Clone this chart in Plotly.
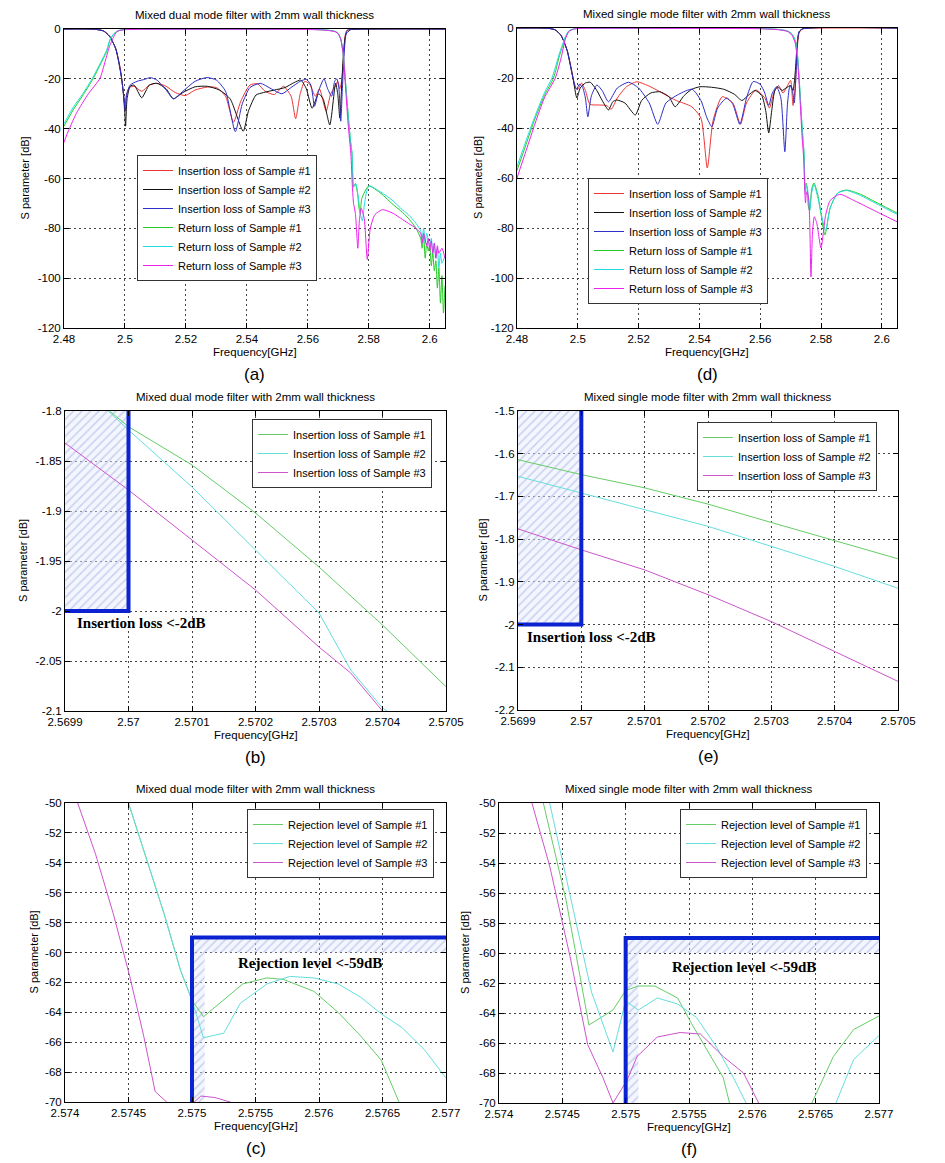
import plotly.graph_objects as go

W, H = 945, 1163
FONT = "Liberation Sans, Arial, sans-serif"
SERIF = "Liberation Serif, Times New Roman, serif"

# ---------------- tick labels / ranges ----------------
WIDE_XRANGE = [2.48, 2.605]
WIDE_YRANGE = [-120, 0]
WIDE_XTICKS = [2.48, 2.50, 2.52, 2.54, 2.56, 2.58, 2.60]
WIDE_XLABELS = ["2.48", "2.5", "2.52", "2.54", "2.56", "2.58", "2.6"]
WIDE_YTICKS = [0, -20, -40, -60, -80, -100, -120]
WIDE_YLABELS = ["0", "-20", "-40", "-60", "-80", "-100", "-120"]

IL_XRANGE = [2.5699, 2.5705]
IL_XTICKS = [2.5699, 2.5700, 2.5701, 2.5702, 2.5703, 2.5704, 2.5705]
IL_XLABELS = ["2.5699", "2.57", "2.5701", "2.5702", "2.5703", "2.5704", "2.5705"]
IL_DUAL_YRANGE = [-2.1, -1.8]
IL_DUAL_YTICKS = [-1.8, -1.85, -1.9, -1.95, -2.0, -2.05, -2.1]
IL_DUAL_YLABELS = ["-1.8", "-1.85", "-1.9", "-1.95", "-2", "-2.05", "-2.1"]
IL_SINGLE_YRANGE = [-2.2, -1.5]
IL_SINGLE_YTICKS = [-1.5, -1.6, -1.7, -1.8, -1.9, -2.0, -2.1, -2.2]
IL_SINGLE_YLABELS = ["-1.5", "-1.6", "-1.7", "-1.8", "-1.9", "-2", "-2.1", "-2.2"]

RJ_XRANGE = [2.574, 2.577]
RJ_XTICKS = [2.574, 2.5745, 2.575, 2.5755, 2.576, 2.5765, 2.577]
RJ_XLABELS = ["2.574", "2.5745", "2.575", "2.5755", "2.576", "2.5765", "2.577"]
RJ_YRANGE = [-70, -50]
RJ_YTICKS = [-50, -52, -54, -56, -58, -60, -62, -64, -66, -68, -70]
RJ_YLABELS = ["-50", "-52", "-54", "-56", "-58", "-60", "-62", "-64", "-66", "-68", "-70"]

# specification limits
IL_SPEC_FREQ = 2.57
IL_SPEC_DB = -2.0
RJ_SPEC_FREQ = 2.575
RJ_SPEC_DB = -59.0
RJ_HATCH_DB = 1.0
RJ_HATCH_FREQ = 0.0001

# ---------------- (a) dual mode, wide span ----------------
A_IL1 = [(2.480, 0), (2.490, -0.1), (2.493, -0.8), (2.495, -3), (2.497, -8), (2.4985, -16), (2.4995, -26),
         (2.4999, -33), (2.5004, -27), (2.5015, -23.5), (2.503, -23), (2.5055, -25), (2.508, -22.5),
         (2.5105, -21.8), (2.5135, -23), (2.5165, -25.5), (2.5198, -26.7), (2.523, -24.5), (2.527, -23.3),
         (2.530, -23.5), (2.533, -27), (2.5356, -37.4), (2.538, -29), (2.541, -22.5), (2.5435, -22),
         (2.546, -25), (2.549, -26.3), (2.552, -23), (2.5545, -27), (2.556, -36), (2.5575, -26), (2.559, -21),
         (2.5605, -22), (2.5625, -27), (2.5638, -24), (2.566, -33), (2.5675, -26), (2.569, -23), (2.5698, -21),
         (2.5705, -24), (2.5712, -20), (2.5718, -10), (2.5722, -3), (2.5728, -0.5), (2.575, -0.1), (2.605, 0)]
A_IL2 = [(2.480, 0), (2.490, -0.1), (2.493, -0.8), (2.495, -3), (2.497, -8), (2.4988, -19), (2.4998, -30),
         (2.5002, -39), (2.5007, -28), (2.5017, -23), (2.503, -22.5), (2.5055, -27.6), (2.508, -22.5),
         (2.5105, -21.8), (2.5135, -24), (2.5159, -28), (2.519, -25.5), (2.523, -23.2), (2.527, -23),
         (2.531, -24.5), (2.5345, -28), (2.5388, -41), (2.5405, -33), (2.543, -26.5), (2.5455, -25.5),
         (2.549, -24.5), (2.5525, -23.5), (2.5555, -21.5), (2.5577, -20.5), (2.5595, -24), (2.5614, -31.8),
         (2.5635, -26), (2.565, -28), (2.5672, -38.5), (2.5691, -21.8), (2.5698, -26), (2.5705, -35.8),
         (2.5712, -20), (2.5718, -8), (2.5725, -2), (2.574, -0.3), (2.578, -0.05), (2.605, 0)]
A_IL3 = [(2.480, 0), (2.490, -0.1), (2.493, -0.8), (2.495, -3), (2.497, -8), (2.4988, -19), (2.4997, -28),
         (2.5001, -33), (2.5006, -26), (2.5017, -22.5), (2.504, -21), (2.5065, -20.2), (2.5083, -19.5),
         (2.5105, -20.5), (2.5135, -24.5), (2.5159, -28), (2.519, -25), (2.523, -21), (2.5269, -19.5),
         (2.530, -20.5), (2.533, -25), (2.5362, -41.2), (2.5385, -30), (2.541, -23.5), (2.5444, -21.8),
         (2.548, -24), (2.5515, -26), (2.5545, -23.5), (2.5575, -21), (2.5595, -20.2), (2.561, -22.5),
         (2.5622, -31), (2.5635, -25), (2.5653, -20), (2.5665, -24), (2.5678, -27), (2.5688, -21),
         (2.5695, -20), (2.5702, -24), (2.5708, -37), (2.5713, -25), (2.5718, -12), (2.5724, -3),
         (2.573, -0.5), (2.575, -0.1), (2.605, 0)]
A_RL1 = [(2.480, -39), (2.483, -32.5), (2.486, -27), (2.4896, -19.8), (2.492, -14), (2.494, -9), (2.4951, -4.4),
         (2.4965, -1.8), (2.498, -0.6), (2.500, -0.2), (2.530, -0.1), (2.560, -0.15), (2.566, -0.4),
         (2.569, -1), (2.570, -1.9), (2.5708, -4), (2.5716, -10), (2.5724, -22), (2.5732, -34), (2.574, -45),
         (2.5745, -50), (2.575, -63.5), (2.5756, -62), (2.5763, -66), (2.5768, -72), (2.5772, -74),
         (2.5777, -68), (2.580, -63), (2.584, -66), (2.588, -70.5), (2.5905, -73), (2.593, -76), (2.5955, -80),
         (2.597, -84), (2.5975, -88), (2.598, -83), (2.5985, -92), (2.599, -86), (2.5995, -89), (2.600, -87),
         (2.6005, -95), (2.601, -90), (2.6015, -97), (2.602, -93), (2.6025, -104), (2.603, -96),
         (2.6035, -110), (2.604, -99), (2.6045, -114), (2.605, -103)]
A_RL2 = [(2.480, -38), (2.483, -31.5), (2.486, -26.3), (2.4893, -19.8), (2.492, -13.5), (2.494, -8.5),
         (2.4951, -4.2), (2.4965, -1.7), (2.498, -0.6), (2.500, -0.2), (2.530, -0.1), (2.560, -0.15),
         (2.566, -0.4), (2.569, -1), (2.570, -1.9), (2.5708, -4), (2.5716, -10), (2.5724, -22), (2.5732, -34),
         (2.574, -45), (2.5745, -50), (2.575, -63), (2.5757, -62), (2.5765, -67), (2.5772, -74), (2.5779, -77),
         (2.5786, -70), (2.580, -63), (2.584, -65.5), (2.588, -69), (2.5905, -72), (2.593, -74.5),
         (2.5955, -78), (2.597, -81), (2.5975, -84), (2.598, -80), (2.5985, -86), (2.599, -82), (2.600, -87),
         (2.6005, -84), (2.601, -90), (2.6015, -86), (2.602, -92), (2.6025, -88), (2.603, -96), (2.6035, -90),
         (2.604, -94), (2.605, -91)]
A_RL3 = [(2.480, -45.5), (2.4809, -42.5), (2.484, -34), (2.488, -26), (2.4918, -19.8), (2.4935, -13),
         (2.4951, -6.4), (2.4973, -1.1), (2.499, -0.4), (2.501, -0.2), (2.530, -0.1), (2.560, -0.2),
         (2.566, -0.5), (2.569, -1.1), (2.570, -2), (2.5708, -4.2), (2.5716, -10), (2.5724, -24), (2.5732, -38),
         (2.5741, -50), (2.5746, -63), (2.575, -70), (2.5756, -74), (2.5764, -88), (2.5769, -77), (2.5775, -72),
         (2.5785, -76), (2.5795, -92.5), (2.5805, -80), (2.582, -74.5), (2.5845, -72.5), (2.588, -74),
         (2.5905, -76), (2.593, -78), (2.5955, -80), (2.597, -82), (2.5975, -86), (2.598, -82), (2.599, -87),
         (2.5995, -84), (2.600, -89), (2.6005, -85), (2.601, -90), (2.6015, -86), (2.602, -92), (2.6025, -87),
         (2.603, -90), (2.604, -88), (2.605, -92)]

# ---------------- (d) single mode, wide span ----------------
D_IL1 = [(2.480, 0), (2.490, -0.1), (2.4925, -0.7), (2.4945, -3), (2.4965, -9), (2.498, -17), (2.4992, -24),
         (2.500, -24.5), (2.5012, -22), (2.5025, -25), (2.504, -30.5), (2.507, -30.8), (2.5095, -31),
         (2.511, -32.5), (2.513, -28), (2.516, -23.5), (2.5194, -21.5), (2.523, -23), (2.526, -24.8),
         (2.532, -28.8), (2.5375, -31.5), (2.5405, -36), (2.5426, -56), (2.5445, -37), (2.5475, -27.5),
         (2.551, -30), (2.5535, -38.5), (2.5555, -30), (2.5586, -24.8), (2.5615, -28), (2.563, -32),
         (2.5645, -26), (2.566, -23), (2.5675, -26), (2.569, -23), (2.570, -21), (2.5708, -31), (2.5716, -22),
         (2.5722, -8), (2.5728, -2), (2.574, -0.3), (2.578, -0.05), (2.605, 0)]
D_IL2 = [(2.480, 0), (2.490, -0.1), (2.4925, -0.7), (2.4945, -3), (2.4965, -9), (2.4984, -20), (2.4997, -28),
         (2.5008, -24), (2.5025, -22), (2.5041, -21.7), (2.506, -24.5), (2.5085, -30), (2.5101, -32.8),
         (2.5115, -29.5), (2.5128, -28.8), (2.5155, -30), (2.5189, -34.8), (2.521, -29), (2.524, -26),
         (2.527, -25.5), (2.530, -27.5), (2.532, -31.5), (2.535, -27), (2.5375, -24.5), (2.5402, -23.5),
         (2.544, -23.7), (2.548, -24.5), (2.5515, -26.5), (2.554, -29), (2.556, -27), (2.5583, -25),
         (2.5605, -27), (2.5618, -33), (2.5628, -42), (2.5638, -33), (2.5648, -25), (2.5658, -23.5),
         (2.5672, -25), (2.5685, -24), (2.570, -23), (2.5708, -25), (2.5715, -18), (2.5722, -6),
         (2.5728, -1.5), (2.574, -0.3), (2.605, 0)]
D_IL3 = [(2.480, 0), (2.490, -0.1), (2.4925, -0.7), (2.4945, -3), (2.4965, -9), (2.4984, -20), (2.4996, -24.5),
         (2.5005, -22.5), (2.5015, -23.5), (2.5025, -28), (2.5033, -35.5), (2.5045, -27), (2.5063, -22.8),
         (2.508, -25), (2.5101, -29.5), (2.513, -24), (2.5167, -21.7), (2.520, -24), (2.5235, -30),
         (2.5263, -38.5), (2.529, -30), (2.5332, -26.5), (2.5376, -24.5), (2.5405, -29), (2.5425, -36),
         (2.5441, -39.5), (2.546, -32), (2.549, -28), (2.551, -30.5), (2.5533, -38.5), (2.5555, -28),
         (2.5577, -21.4), (2.560, -22.5), (2.5615, -26), (2.5628, -31), (2.564, -26), (2.5654, -23.5),
         (2.5668, -28), (2.5681, -49.5), (2.569, -30), (2.5698, -23), (2.5706, -25), (2.5712, -30),
         (2.5718, -18), (2.5722, -6), (2.5728, -1.5), (2.574, -0.3), (2.605, 0)]
D_RL1 = [(2.480, -57), (2.483, -46.5), (2.486, -36), (2.489, -27), (2.492, -20), (2.494, -11), (2.4959, -4),
         (2.497, -1.3), (2.4985, -0.4), (2.500, -0.2), (2.530, -0.1), (2.560, -0.2), (2.566, -0.6),
         (2.569, -1.2), (2.5705, -2.5), (2.5715, -5), (2.5722, -10), (2.5728, -20), (2.5733, -30),
         (2.5738, -40), (2.5744, -50), (2.5747, -65), (2.5751, -62), (2.5755, -64.5), (2.5758, -71),
         (2.5762, -73), (2.5765, -70), (2.577, -64), (2.5777, -62), (2.579, -67), (2.5813, -82.8), (2.583, -72),
         (2.5855, -66), (2.5884, -64.8), (2.593, -66.5), (2.597, -69), (2.601, -71.5), (2.605, -74)]
D_RL2 = [(2.480, -55.5), (2.483, -45), (2.486, -35), (2.489, -26), (2.4915, -20), (2.494, -10), (2.4959, -3.5),
         (2.497, -1.2), (2.4985, -0.4), (2.500, -0.2), (2.530, -0.1), (2.560, -0.2), (2.566, -0.6),
         (2.569, -1.2), (2.5705, -2.5), (2.5715, -5), (2.5722, -10), (2.5728, -20), (2.5733, -30),
         (2.5738, -40), (2.5744, -50), (2.5747, -62.5), (2.5749, -66.6), (2.5752, -63), (2.5755, -63.5),
         (2.5757, -66), (2.576, -70.5), (2.5763, -73), (2.5766, -70), (2.5768, -67), (2.577, -65.5),
         (2.5777, -62.5), (2.579, -68), (2.5815, -81), (2.583, -72), (2.5855, -66), (2.5884, -65), (2.593, -67),
         (2.597, -69.5), (2.601, -72), (2.605, -74.5)]
D_RL3 = [(2.480, -60), (2.483, -49), (2.486, -38), (2.489, -28), (2.4926, -20), (2.4945, -12), (2.4959, -4.5),
         (2.497, -1.5), (2.4985, -0.5), (2.500, -0.2), (2.530, -0.15), (2.560, -0.3), (2.566, -0.7),
         (2.569, -1.4), (2.5705, -3), (2.5715, -6), (2.5722, -12), (2.5728, -22), (2.5733, -33), (2.5738, -44),
         (2.5743, -52), (2.5747, -66), (2.5749, -70), (2.5751, -67), (2.5753, -65.8), (2.5755, -65.4),
         (2.5757, -66.5), (2.576, -69), (2.5763, -78), (2.5767, -99.5), (2.5772, -82), (2.5778, -75.5),
         (2.5786, -78), (2.580, -88), (2.5815, -75), (2.583, -69), (2.5862, -66.5), (2.590, -68.5),
         (2.595, -71.5), (2.600, -74.5), (2.605, -77.5)]

# ---------------- (b) / (e) insertion loss zoom ----------------
B_IL1 = [(2.56997, -1.80), (2.5700, -1.8157), (2.5701, -1.854), (2.5702, -1.902), (2.5703, -1.956),
         (2.5704, -2.014), (2.5705, -2.0757)]
B_IL2 = [(2.569968, -1.80), (2.5700, -1.819), (2.5701, -1.876), (2.5702, -1.939), (2.5703, -2.002),
         (2.57035, -2.059), (2.5704, -2.097), (2.570407, -2.10)]
B_IL3 = [(2.5699, -1.832), (2.5700, -1.879), (2.5701, -1.929), (2.5702, -1.979), (2.5703, -2.036),
         (2.57035, -2.062), (2.5704, -2.10)]
E_IL1 = [(2.5699, -1.614), (2.5700, -1.649), (2.5701, -1.680), (2.5702, -1.718), (2.5703, -1.761),
         (2.5704, -1.804), (2.5705, -1.846)]
E_IL2 = [(2.5699, -1.653), (2.5700, -1.692), (2.5701, -1.731), (2.5702, -1.770), (2.5703, -1.817),
         (2.5704, -1.864), (2.5705, -1.915)]
E_IL3 = [(2.5699, -1.776), (2.5700, -1.825), (2.5701, -1.872), (2.5702, -1.930), (2.5703, -1.993),
         (2.5704, -2.063), (2.5705, -2.133)]

# ---------------- (c) / (f) rejection zoom ----------------
C_RJ1 = [(2.5745, -50), (2.57478, -57.4), (2.57491, -61.2), (2.575, -63.2), (2.57509, -64.3), (2.57522, -63.4),
         (2.5754, -62.1), (2.57559, -61.7), (2.57572, -61.8), (2.57596, -62.6), (2.57615, -64.0),
         (2.57633, -65.6), (2.57649, -67.2), (2.57663, -70), (2.5768, -72)]
C_RJ2 = [(2.5745, -50), (2.57478, -57.4), (2.57491, -61.2), (2.575, -63.2), (2.57509, -65.7), (2.57525, -65.4),
         (2.57538, -63.4), (2.57559, -62.1), (2.57577, -61.6), (2.57596, -61.7), (2.57615, -62.1),
         (2.57633, -63.0), (2.57649, -64.1), (2.57665, -65.0), (2.57683, -66.5), (2.577, -68.4)]
C_RJ3 = [(2.5741, -50), (2.57424, -53.4), (2.57438, -57.4), (2.57451, -61.6), (2.57462, -65.6),
         (2.57471, -69.3), (2.5748, -70), (2.57494, -70.6), (2.57507, -69.6), (2.57518, -69.7), (2.5753, -70),
         (2.5754, -70.3)]
F_RJ1 = [(2.57435, -50), (2.57453, -56.5), (2.57471, -64.8), (2.5749, -63.8), (2.575, -62.5), (2.5751, -62.2),
         (2.57523, -62.2), (2.57541, -63.0), (2.57552, -64.7), (2.57566, -66.7), (2.57577, -68.3),
         (2.57582, -70), (2.5760, -72), (2.5763, -72.5), (2.57647, -70), (2.57664, -66.9), (2.5768, -65.1),
         (2.577, -64.2)]
F_RJ2 = [(2.5744, -50), (2.57456, -56.2), (2.57473, -62.6), (2.5749, -66.6), (2.575, -63.2), (2.5751, -63.8),
         (2.57525, -63.0), (2.57541, -63.4), (2.57556, -64.3), (2.57572, -66.3), (2.57585, -68.3),
         (2.57595, -70), (2.5762, -72.5), (2.57666, -70), (2.5768, -67.1), (2.577, -65.5)]
F_RJ3 = [(2.57426, -50), (2.5744, -54.2), (2.57456, -60.2), (2.5747, -66.1), (2.57482, -68.3), (2.5749, -70),
         (2.57501, -68.5), (2.57509, -66.9), (2.57525, -65.6), (2.57543, -65.3), (2.57559, -65.4),
         (2.57577, -66.9), (2.57593, -68.0), (2.57605, -70), (2.5762, -72)]

# ---------------- styles ----------------
RED, BLACK, BLUE = "#EE3535", "#111111", "#2E2EC8"
GREEN, CYAN, MAGENTA = "#22CC22", "#22DDDD", "#EE22EE"
LGREEN, LCYAN, LMAGENTA = "#66CC66", "#66DDDD", "#CC55CC"
SPEC_BLUE = "#0A22D0"

IL_NAMES = ["Insertion loss of Sample #1", "Insertion loss of Sample #2", "Insertion loss of Sample #3"]
RL_NAMES = ["Return loss of Sample #1", "Return loss of Sample #2", "Return loss of Sample #3"]
RJ_NAMES = ["Rejection level of Sample #1", "Rejection level of Sample #2", "Rejection level of Sample #3"]
TITLE_DUAL = "Mixed dual mode filter with 2mm wall thickness"
TITLE_SINGLE = "Mixed single mode filter with 2mm wall thickness"

# panel layout in pixels: (left, right, top, bottom)
PANELS = [
    dict(i=1, box=(64, 445, 29, 328), xr=WIDE_XRANGE, yr=WIDE_YRANGE, xt=(WIDE_XTICKS, WIDE_XLABELS),
         yt=(WIDE_YTICKS, WIDE_YLABELS), title=TITLE_DUAL, ylab_x=25, sub="(a)", leg=(137, 155)),
    dict(i=2, box=(517, 897, 28, 328), xr=WIDE_XRANGE, yr=WIDE_YRANGE, xt=(WIDE_XTICKS, WIDE_XLABELS),
         yt=(WIDE_YTICKS, WIDE_YLABELS), title=TITLE_SINGLE, ylab_x=478, sub="(d)", leg=(588, 178)),
    dict(i=3, box=(65, 446, 411, 711), xr=IL_XRANGE, yr=IL_DUAL_YRANGE, xt=(IL_XTICKS, IL_XLABELS),
         yt=(IL_DUAL_YTICKS, IL_DUAL_YLABELS), title=TITLE_DUAL, ylab_x=23, sub="(b)", leg=(252, 419)),
    dict(i=4, box=(518, 898, 411, 710), xr=IL_XRANGE, yr=IL_SINGLE_YRANGE, xt=(IL_XTICKS, IL_XLABELS),
         yt=(IL_SINGLE_YTICKS, IL_SINGLE_YLABELS), title=TITLE_SINGLE, ylab_x=482, sub="(e)", leg=(697, 422)),
    dict(i=5, box=(65, 446, 803, 1102), xr=RJ_XRANGE, yr=RJ_YRANGE, xt=(RJ_XTICKS, RJ_XLABELS),
         yt=(RJ_YTICKS, RJ_YLABELS), title=TITLE_DUAL, ylab_x=33, sub="(c)", leg=(247, 809)),
    dict(i=6, box=(499, 879, 803, 1103), xr=RJ_XRANGE, yr=RJ_YRANGE, xt=(RJ_XTICKS, RJ_XLABELS),
         yt=(RJ_YTICKS, RJ_YLABELS), title=TITLE_SINGLE, ylab_x=465, sub="(f)", leg=(680, 809)),
]


def sfx(i):
    return "" if i == 1 else str(i)


def unzip(pairs):
    return [p[0] for p in pairs], [p[1] for p in pairs]


fig = go.Figure()


def add_series(pairs, i, name, color, shape="linear"):
    x, y = unzip(pairs)
    line = dict(color=color, width=1)
    if shape == "spline":
        line.update(shape="spline", smoothing=0.6)
    fig.add_trace(go.Scatter(x=x, y=y, mode="lines", name=name, line=line,
                             xaxis="x" + sfx(i), yaxis="y" + sfx(i), legend="legend" + sfx(i)))


def add_hatch(xs, ys, i):
    fig.add_trace(go.Scatter(x=xs, y=ys, mode="lines", fill="toself", line=dict(width=0),
                             fillcolor="rgba(215,222,245,0.3)",
                             fillpattern=dict(shape="/", fgcolor="#9AA8E4", bgcolor="rgba(232,236,250,0.45)",
                                              size=6, solidity=0.25),
                             hoverinfo="skip", showlegend=False,
                             xaxis="x" + sfx(i), yaxis="y" + sfx(i)))


def add_spec_line(xs, ys, i):
    fig.add_trace(go.Scatter(x=xs, y=ys, mode="lines", line=dict(color=SPEC_BLUE, width=4),
                             hoverinfo="skip", showlegend=False,
                             xaxis="x" + sfx(i), yaxis="y" + sfx(i)))


# (a)
for pairs, name, c in zip([A_IL1, A_IL2, A_IL3, A_RL1, A_RL2, A_RL3], IL_NAMES + RL_NAMES,
                          [RED, BLACK, BLUE, GREEN, CYAN, MAGENTA]):
    add_series(pairs, 1, name, c, "spline")
# (d)
for pairs, name, c in zip([D_IL1, D_IL2, D_IL3, D_RL1, D_RL2, D_RL3], IL_NAMES + RL_NAMES,
                          [RED, BLACK, BLUE, GREEN, CYAN, MAGENTA]):
    add_series(pairs, 2, name, c, "spline")

# (b) and (e): insertion loss spec region
for i, series, yr in [(3, [B_IL1, B_IL2, B_IL3], IL_DUAL_YRANGE), (4, [E_IL1, E_IL2, E_IL3], IL_SINGLE_YRANGE)]:
    x0 = IL_XRANGE[0]
    add_hatch([x0, IL_SPEC_FREQ, IL_SPEC_FREQ, x0, x0], [IL_SPEC_DB, IL_SPEC_DB, yr[1], yr[1], IL_SPEC_DB], i)
    for pairs, name, c in zip(series, IL_NAMES, [LGREEN, LCYAN, LMAGENTA]):
        add_series(pairs, i, name, c)
    add_spec_line([x0, IL_SPEC_FREQ, IL_SPEC_FREQ], [IL_SPEC_DB, IL_SPEC_DB, yr[1]], i)

# (c) and (f): rejection spec region
for i, series in [(5, [C_RJ1, C_RJ2, C_RJ3]), (6, [F_RJ1, F_RJ2, F_RJ3])]:
    f0, f1, fe = RJ_SPEC_FREQ, RJ_SPEC_FREQ + RJ_HATCH_FREQ, RJ_XRANGE[1]
    d0, d1, de = RJ_SPEC_DB, RJ_SPEC_DB - RJ_HATCH_DB, RJ_YRANGE[0]
    add_hatch([f0, f1, f1, fe, fe, f0, f0], [de, de, d1, d1, d0, d0, de], i)
    for pairs, name, c in zip(series, RJ_NAMES, [LGREEN, LCYAN, LMAGENTA]):
        add_series(pairs, i, name, c)
    add_spec_line([f0, f0, fe], [de, d0, d0], i)

# ---------------- layout ----------------
common = dict(showline=True, linecolor="black", linewidth=1, mirror="ticks", ticks="inside", ticklen=5,
              tickcolor="black", showgrid=True, gridcolor="#444444", griddash="2px,3px", gridwidth=1,
              zeroline=False, tickfont=dict(family=FONT, size=11.5, color="black"), tickmode="array",
              automargin=False)

layout = dict(width=W, height=H, margin=dict(l=0, r=0, t=0, b=0, pad=0, autoexpand=False),
              paper_bgcolor="white", plot_bgcolor="white", showlegend=True,
              font=dict(family=FONT, color="black"))
annotations = []


def pxx(v):
    return v / W


def pxy(v):
    return 1 - v / H


for p in PANELS:
    s = sfx(p["i"])
    l, r, t, b = p["box"]
    layout["xaxis" + s] = dict(domain=[pxx(l), pxx(r)], range=p["xr"], anchor="y" + s,
                               tickvals=p["xt"][0], ticktext=p["xt"][1], **common)
    layout["yaxis" + s] = dict(domain=[pxy(b), pxy(t)], range=p["yr"], anchor="x" + s,
                               tickvals=p["yt"][0], ticktext=p["yt"][1], **common)
    layout["legend" + s] = dict(x=pxx(p["leg"][0]), y=pxy(p["leg"][1]), xanchor="left", yanchor="top",
                                bgcolor="white", bordercolor="#333333", borderwidth=1,
                                font=dict(family=FONT, size=11, color="black"), tracegroupgap=0,
                                itemwidth=30, traceorder="normal")
    cx = (l + r) / 2
    annotations.append(dict(text=p["title"], x=pxx(cx), y=pxy(t - 14), xref="paper", yref="paper",
                            showarrow=False, font=dict(family=FONT, size=11.5, color="black"),
                            xanchor="center", yanchor="middle"))
    annotations.append(dict(text="Frequency[GHz]", x=pxx(cx), y=pxy(b + 24), xref="paper", yref="paper",
                            showarrow=False, font=dict(family=FONT, size=11.5, color="black"),
                            xanchor="center", yanchor="middle"))
    annotations.append(dict(text=p["sub"], x=pxx(cx), y=pxy(b + 46), xref="paper", yref="paper",
                            showarrow=False, font=dict(family=FONT, size=17, color="black"),
                            xanchor="center", yanchor="middle"))
    annotations.append(dict(text="S parameter [dB]", x=pxx(p["ylab_x"]), y=pxy((t + b) / 2), xref="paper",
                            yref="paper", showarrow=False, textangle=-90,
                            font=dict(family=FONT, size=11, color="black"), xanchor="center",
                            yanchor="middle"))

spec_font = dict(family=SERIF, size=15, color="black", weight="bold")
annotations.append(dict(text="Insertion loss <-2dB", x=2.569916, y=-2.0123, xref="x3", yref="y3",
                        showarrow=False, font=spec_font, xanchor="left", yanchor="middle"))
annotations.append(dict(text="Insertion loss <-2dB", x=2.569911, y=-2.028, xref="x4", yref="y4",
                        showarrow=False, font=spec_font, xanchor="left", yanchor="middle"))
annotations.append(dict(text="Rejection level <-59dB", x=2.57593, y=-60.72, xref="x5", yref="y5",
                        showarrow=False, font=spec_font, xanchor="center", yanchor="middle"))
annotations.append(dict(text="Rejection level <-59dB", x=2.575933, y=-60.95, xref="x6", yref="y6",
                        showarrow=False, font=spec_font, xanchor="center", yanchor="middle"))
layout["annotations"] = annotations

fig.update_layout(**layout)
fig.write_html("out.html", config={"displayModeBar": False},
               post_script="document.body.style.margin='0px';document.body.style.padding='0px';"
                           "document.documentElement.style.overflow='hidden';")
